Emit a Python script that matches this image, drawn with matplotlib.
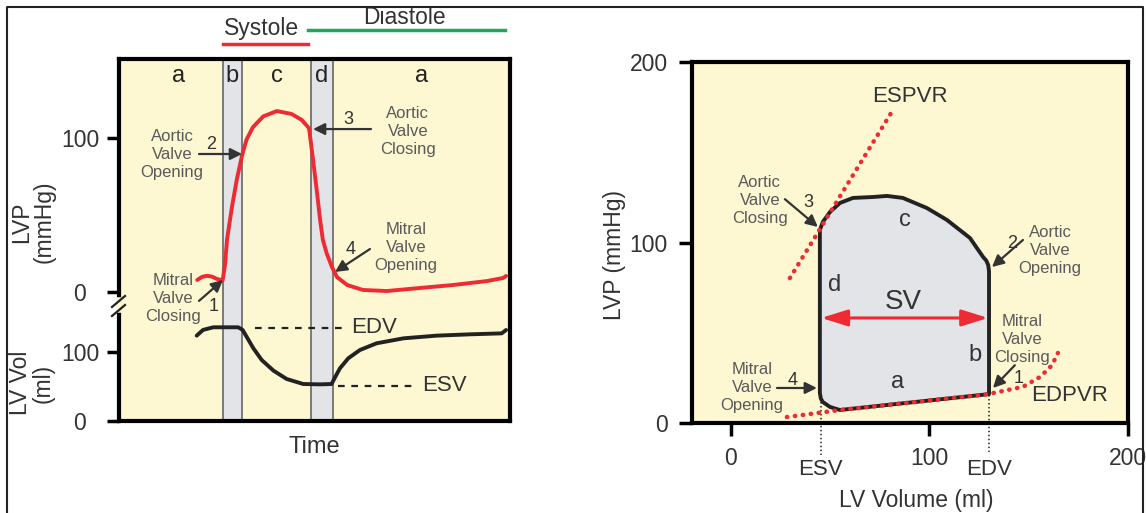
import matplotlib
matplotlib.use('Agg')
import matplotlib.pyplot as plt
from matplotlib.lines import Line2D

plt.rcParams['font.family'] = ['Liberation Sans', 'DejaVu Sans']

# ---------------- Left panel data (time in ms) ----------------
phase_labels = ['a', 'b', 'c', 'd', 'a']
phase_label_t = [121, 231, 323, 415, 620]
band_b = (213, 252)
band_d = (393, 438)

lvp_t = [160, 170, 180, 190, 200, 212, 217, 221, 231, 241, 252, 261, 274, 295, 323,
         353, 374, 387, 389, 397, 405, 411, 417, 425, 436, 446, 467, 499, 548, 616,
         683, 753, 786, 792]
lvp_mmhg = [7.8, 9.8, 10.5, 10, 8.5, 7.5, 18, 34, 55, 73, 89, 99, 107, 114, 117.5,
            115.6, 111.7, 107, 106, 86, 65, 48, 34, 25, 16, 9.7, 4.5, 1.3, 0.6, 2.6,
            4.5, 7.1, 9.1, 10.4]

lvv_t = [159, 172, 193, 212, 244, 253, 261, 275, 292, 316, 343, 377, 411, 435, 442,
         452, 469, 493, 527, 582, 650, 718, 783, 792]
lvv_ml = [123.7, 132, 135.8, 135.8, 135.8, 131.9, 122.2, 105.3, 88.4, 73, 60.9, 53.6,
          53.1, 53.6, 63.3, 76.3, 90.8, 102.9, 112.6, 119.8, 123.7, 125.6, 127, 131.9]

edv_level = 134.8
esv_level = 51.2

# ---------------- Right panel data (PV loop) ----------------
loop_vol = [130, 130, 129.6, 128.6, 127, 120.4, 108.8, 98.7, 86.6, 78.6, 71.5, 61.5,
            54.9, 49.9, 46.3, 44.8, 44.8, 45.3, 46.3, 49.9, 54.9, 130]
loop_p = [16, 84, 87.5, 90, 92, 102.5, 112.5, 119.1, 124.7, 125.8, 125.2, 124.7,
          121.9, 116.9, 111.4, 106.9, 16.6, 13.5, 11.6, 8.9, 7.2, 16]
espvr_vol = [29.7, 81.6]
espvr_p = [80.3, 173.4]
edpvr_vol = [28.2, 43.3, 54.9, 130, 132, 147, 155.7, 161.7, 164.7]
edpvr_p = [3.3, 5.5, 7.2, 16, 16.6, 20, 25.5, 32, 38.8]
esv_pv = 45.3
edv_pv = 130

RED = '#ee2a33'
GREEN = '#1aab5a'
BG = '#fdf7d2'
BAND = '#e3e4e8'
TXT = '#333333'
ANN = '#5a5a5a'

W, H = 1146, 513
fig = plt.figure(figsize=(W / 100, H / 100), dpi=100)
fig.patch.set_facecolor('white')


def arrow(ax, frm, to, color='#333333', lw=1.6):
    ax.annotate('', xy=to, xytext=frm,
                arrowprops=dict(arrowstyle='-|>,head_length=0.5,head_width=0.25',
                                color=color, lw=lw, shrinkA=0, shrinkB=0,
                                mutation_scale=14),
                annotation_clip=False)


def ann(ax, x, y, s):
    ax.text(x, y, s, ha='center', va='center', multialignment='center',
            fontsize=12, color=ANN, linespacing=1.25, clip_on=False)


# ================= Left panel =================
ax1 = fig.add_axes([119 / W, 1 - 421 / H, 391 / W, 362 / H])
ax1.set_xlim(0, 800)
ax1.set_ylim(-83.8, 151.3)
ax1.set_facecolor(BG)
for sp in ax1.spines.values():
    sp.set_linewidth(3)
    sp.set_color('black')
ax1.set_xticks([])
ax1.set_yticks([0, 100])
ax1.set_yticklabels(['0', '100'])
ax1.tick_params(axis='y', length=8.6, width=2.5, labelsize=16.5, labelcolor=TXT, pad=19.5)
plt.setp(ax1.get_yticklabels(), ha='center')

for (a, b) in (band_b, band_d):
    ax1.axvspan(a, b, facecolor=BAND, edgecolor='#707070', lw=1.3, zorder=1)

ax1.plot(lvp_t, lvp_mmhg, color=RED, lw=2.8, solid_capstyle='round',
         solid_joinstyle='round', zorder=3)

for lab, t in zip(phase_labels, phase_label_t):
    ax1.text(t, 140.3, lab, ha='center', va='center', fontsize=17, color='#222222')

# Systole / Diastole bars
ax1.plot([band_b[0], 386.7], [161, 161], color=RED, lw=2.5, clip_on=False)
ax1.plot([386.7, 790], [170.1, 170.1], color=GREEN, lw=2.5, clip_on=False)
ax1.text(292.6, 171.4, 'Systole', ha='center', va='center', fontsize=16.5, color=TXT)
ax1.text(585, 178.5, 'Diastole', ha='center', va='center', fontsize=16.5, color=TXT)

# annotations
ann(ax1, 108.4, 89.6, 'Aortic\nValve\nOpening')
ax1.text(188, 96, '2', ha='center', va='center', fontsize=13, color=TXT)
arrow(ax1, (163.7, 89.6), (251.7, 89.6))
ann(ax1, 591, 104.5, 'Aortic\nValve\nClosing')
ax1.text(468.5, 112.3, '3', ha='center', va='center', fontsize=13, color=TXT)
arrow(ax1, (515.6, 105.8), (397, 105.8))
ann(ax1, 587, 28.6, 'Mitral\nValve\nOpening')
ax1.text(474.7, 27.3, '4', ha='center', va='center', fontsize=13, color=TXT)
arrow(ax1, (513.5, 27.9), (442, 13))
ann(ax1, 110.5, -4.5, 'Mitral\nValve\nClosing')
ax1.text(194.4, -9.7, '1', ha='center', va='center', fontsize=13, color=TXT)
arrow(ax1, (163.7, -5.8), (212.8, 7.8))

ax1.set_xlabel('Time', fontsize=17, color=TXT, labelpad=11)
ax1.set_ylabel('LVP\n(mmHg)', fontsize=16.5, color=TXT, linespacing=1.0)
ax1.yaxis.set_label_coords((33 - 119) / 391, (421 - 222) / 362)
ax1.yaxis.label.set_va('center')

# volume axis sharing time
ax2 = ax1.twinx()
ax2.set_ylim(0, 524.6)
for sp in ax2.spines.values():
    sp.set_visible(False)
ax2.yaxis.set_ticks_position('left')
ax2.yaxis.set_label_position('left')
ax2.set_yticks([0, 100])
ax2.set_yticklabels(['0', '100'])
ax2.tick_params(axis='y', length=8.6, width=2.5, labelsize=16.5, labelcolor=TXT, pad=19.5)
plt.setp(ax2.get_yticklabels(), ha='center')
ax2.plot(lvv_t, lvv_ml, color='#222222', lw=2.8, solid_capstyle='round',
         solid_joinstyle='round', zorder=3)
ax2.plot([278, 464], [edv_level, edv_level], color='#222222', lw=1.6, ls=(0, (3, 3)))
ax2.text(475, edv_level, 'EDV', ha='left', va='center', fontsize=16, color=TXT)
ax2.plot([448, 610], [esv_level, esv_level], color='#222222', lw=1.6, ls=(0, (3, 3)))
ax2.text(620, esv_level, 'ESV', ha='left', va='center', fontsize=16, color=TXT)
ax2.set_ylabel('LV Vol\n(ml)', fontsize=16.5, color=TXT, linespacing=1.0)
ax2.yaxis.set_label_coords((32 - 119) / 391, (421 - 383) / 362)
ax2.yaxis.label.set_va('center')

# axis break mark
def fpt(x, y):
    return x / W, 1 - y / H

gx, gy = zip(fpt(119, 300), fpt(119, 310))
fig.add_artist(Line2D(gx, gy, color=BG, lw=4, transform=fig.transFigure))
for dy in (0, 9):
    xs, ys = zip(fpt(112, 307 + dy), fpt(125, 296 + dy))
    fig.add_artist(Line2D(xs, ys, color='#222222', lw=1.6, transform=fig.transFigure))

# ================= Right panel =================
ax3 = fig.add_axes([692 / W, 1 - 423 / H, 436 / W, 361 / H])
ax3.set_xlim(-19.6, 200)
ax3.set_ylim(0, 200)
ax3.set_facecolor(BG)
for sp in ax3.spines.values():
    sp.set_linewidth(3)
    sp.set_color('black')
ax3.set_xticks([0, 100, 200])
ax3.set_yticks([0, 100, 200])
ax3.tick_params(length=9.4, width=2.5, labelsize=16.5, labelcolor=TXT, pad=8)

ax3.fill(loop_vol, loop_p, facecolor=BAND, edgecolor='#222222', lw=2.8,
         joinstyle='round', zorder=2)
ax3.plot(espvr_vol, espvr_p, color=RED, lw=3.2, ls=(0, (0.1, 1.7)),
         dash_capstyle='round', zorder=4)
ax3.plot(edpvr_vol, edpvr_p, color=RED, lw=3.2, ls=(0, (0.1, 1.7)),
         dash_capstyle='round', zorder=4)

ax3.annotate('', xy=(129.5, 58.2), xytext=(45.5, 58.2),
             arrowprops=dict(arrowstyle='<|-|>,head_length=0.8,head_width=0.25',
                             color=RED, lw=2.2, shrinkA=0, shrinkB=0,
                             mutation_scale=20), zorder=5)
ax3.text(86.6, 67, 'SV', ha='center', va='center', fontsize=20, color=TXT)

ax3.text(84, 22.7, 'a', ha='center', va='center', fontsize=17, color=TXT)
ax3.text(123, 37.7, 'b', ha='center', va='center', fontsize=17, color=TXT)
ax3.text(87.6, 112.5, 'c', ha='center', va='center', fontsize=17, color=TXT)
ax3.text(52.4, 76.5, 'd', ha='center', va='center', fontsize=17, color=TXT)
ax3.text(90.2, 181, 'ESPVR', ha='center', va='center', fontsize=16, color=TXT)
ax3.text(170.8, 15.5, 'EDPVR', ha='center', va='center', fontsize=16, color=TXT)

ann(ax3, 14.6, 123.3, 'Aortic\nValve\nClosing')
ax3.text(38.8, 121.9, '3', ha='center', va='center', fontsize=13, color=TXT)
arrow(ax3, (27.2, 124), (43.8, 108.6))
ann(ax3, 160.7, 95.8, 'Aortic\nValve\nOpening')
ax3.text(141.6, 99.7, '2', ha='center', va='center', fontsize=13, color=TXT)
arrow(ax3, (147.1, 101.4), (131.5, 86.4))
ann(ax3, 146.6, 46.5, 'Mitral\nValve\nClosing')
ax3.text(145, 24.9, '1', ha='center', va='center', fontsize=13, color=TXT)
arrow(ax3, (143, 32), (132, 19.4))
ann(ax3, 10.6, 19.9, 'Mitral\nValve\nOpening')
ax3.text(31.2, 23.8, '4', ha='center', va='center', fontsize=13, color=TXT)
arrow(ax3, (23.2, 19.4), (43.3, 19.4))

# ESV / EDV markers
ax3.plot([esv_pv, esv_pv], [11.6, -17.7], color='#222222', lw=1.1, ls=(0, (1, 1.6)),
         clip_on=False)
ax3.plot([edv_pv, edv_pv], [15.5, -16], color='#222222', lw=1.1, ls=(0, (1, 1.6)),
         clip_on=False)
ax3.text(esv_pv, -26, 'ESV', ha='center', va='center', fontsize=16, color=TXT)
ax3.text(edv_pv, -26, 'EDV', ha='center', va='center', fontsize=16, color=TXT)

ax3.set_xlabel('LV Volume (ml)', fontsize=16.5, color=TXT)
ax3.xaxis.set_label_coords((916 - 692) / 436, -(500 - 423) / 361)
ax3.xaxis.label.set_va('center')
ax3.set_ylabel('LVP (mmHg)', fontsize=16.5, color=TXT)
ax3.yaxis.set_label_coords((615 - 692) / 436, (423 - 255) / 361)
ax3.yaxis.label.set_va('center')

# outer frame
fx, fy = zip(fpt(7, 520), fpt(7, 7), fpt(1143, 7), fpt(1143, 520))
fig.add_artist(Line2D(fx, fy, color='#222222', lw=1.5, transform=fig.transFigure))

fig.savefig('out.png', dpi=100, facecolor='white')
